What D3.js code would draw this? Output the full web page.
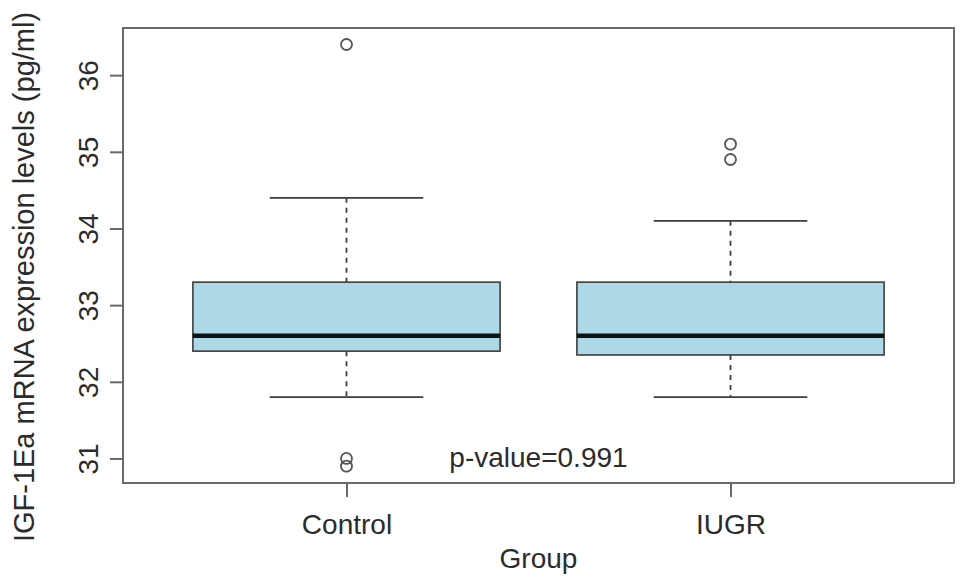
<!DOCTYPE html>
<html>
<head>
<meta charset="utf-8">
<script src="https://cdn.jsdelivr.net/npm/d3@7"></script>
<style>
  body { margin: 0; background: #fff; }
  svg text { font-family: "Liberation Sans", Arial, sans-serif; fill: #2b2b2b; }
</style>
</head>
<body>
<div class="chart"></div>
<script>
// box statistics
const groups = ["Control", "IUGR"];
const q1 = [32.40, 32.35];
const medians = [32.60, 32.60];
const q3 = [33.30, 33.30];
const whiskerLow = [31.80, 31.80];
const whiskerHigh = [34.40, 34.10];
const outliers = [[36.4, 31.0, 30.9], [35.1, 34.9]];
const yTicks = [31, 32, 33, 34, 35, 36];
const pLabel = "p-value=0.991";

const w = 969;
const h = 586;
const padLeft = 123, padRight = 954, padTop = 28, padBottom = 483;

const svg = d3.select(".chart").append("svg").attr("width", w).attr("height", h);

const xScale = d3.scaleLinear().domain([0.418, 2.582]).range([padLeft, padRight]);
const yScale = d3.scaleLinear().domain([30.68, 36.615]).range([padBottom, padTop]);

const boxes = groups.map((g, i) => ({
  name: g, pos: i + 1, q1: q1[i], med: medians[i], q3: q3[i],
  lo: whiskerLow[i], hi: whiskerHigh[i], out: outliers[i]
}));

const lineCol = "#3d3d3d";

const g = svg.selectAll(".box").data(boxes).enter().append("g").attr("class", "box");

// dashed whiskers
g.append("line")
  .attr("x1", d => xScale(d.pos)).attr("x2", d => xScale(d.pos))
  .attr("y1", d => yScale(d.hi)).attr("y2", d => yScale(d.q3))
  .attr("stroke", lineCol).attr("stroke-width", 1.8).attr("stroke-dasharray", "5,5");
g.append("line")
  .attr("x1", d => xScale(d.pos)).attr("x2", d => xScale(d.pos))
  .attr("y1", d => yScale(d.q1)).attr("y2", d => yScale(d.lo))
  .attr("stroke", lineCol).attr("stroke-width", 1.8).attr("stroke-dasharray", "5,5");

// caps
["hi", "lo"].forEach(k => {
  g.append("line")
    .attr("x1", d => xScale(d.pos - 0.2)).attr("x2", d => xScale(d.pos + 0.2))
    .attr("y1", d => yScale(d[k])).attr("y2", d => yScale(d[k]))
    .attr("stroke", lineCol).attr("stroke-width", 1.8);
});

// box
g.append("rect")
  .attr("x", d => xScale(d.pos - 0.4))
  .attr("width", d => xScale(d.pos + 0.4) - xScale(d.pos - 0.4))
  .attr("y", d => yScale(d.q3))
  .attr("height", d => yScale(d.q1) - yScale(d.q3))
  .attr("fill", "#add8e6").attr("stroke", lineCol).attr("stroke-width", 1.6);

// median
g.append("line")
  .attr("x1", d => xScale(d.pos - 0.4)).attr("x2", d => xScale(d.pos + 0.4))
  .attr("y1", d => yScale(d.med)).attr("y2", d => yScale(d.med))
  .attr("stroke", "#111").attr("stroke-width", 4.5);

// outliers
g.selectAll("circle").data(d => d.out.map(v => ({ pos: d.pos, v: v }))).enter()
  .append("circle")
  .attr("cx", d => xScale(d.pos)).attr("cy", d => yScale(d.v))
  .attr("r", 5.5).attr("fill", "none").attr("stroke", "#555").attr("stroke-width", 1.8);

// frame
svg.append("rect")
  .attr("x", padLeft).attr("y", padTop).attr("width", padRight - padLeft).attr("height", padBottom - padTop)
  .attr("fill", "none").attr("stroke", "#6a6a6a").attr("stroke-width", 2);

// y axis
const yAxis = d3.axisLeft(yScale).tickValues(yTicks).tickSize(13).tickFormat(d3.format("d"));
const ya = svg.append("g").attr("transform", "translate(" + padLeft + ",0)").call(yAxis);
ya.select(".domain").remove();
ya.selectAll("line").attr("stroke", "#6a6a6a").attr("stroke-width", 2);
ya.selectAll("text")
  .attr("transform", "rotate(-90)").attr("x", 0).attr("y", -25).attr("dy", 0)
  .attr("text-anchor", "middle").style("font-size", "28px").attr("fill", "#2b2b2b");

// x axis
const xAxis = d3.axisBottom(xScale).tickValues([1, 2]).tickSize(14).tickFormat(d => groups[d - 1]);
const xa = svg.append("g").attr("transform", "translate(0," + padBottom + ")").call(xAxis);
xa.select(".domain").remove();
xa.selectAll("line").attr("stroke", "#6a6a6a").attr("stroke-width", 2);
xa.selectAll("text").attr("y", 51).attr("dy", 0).style("font-size", "28px").attr("fill", "#2b2b2b");

// titles
svg.append("text").attr("x", (padLeft + padRight) / 2).attr("y", 568)
  .attr("text-anchor", "middle").style("font-size", "28px").text("Group");
svg.append("text").attr("transform", "translate(34,277) rotate(-90)")
  .attr("text-anchor", "middle").style("font-size", "29px")
  .text("IGF-1Ea mRNA expression levels (pg/ml)");

// p-value note
svg.append("text").attr("x", xScale(1.5)).attr("y", 467)
  .attr("text-anchor", "middle").style("font-size", "28px").text(pLabel);
</script>
</body>
</html>
